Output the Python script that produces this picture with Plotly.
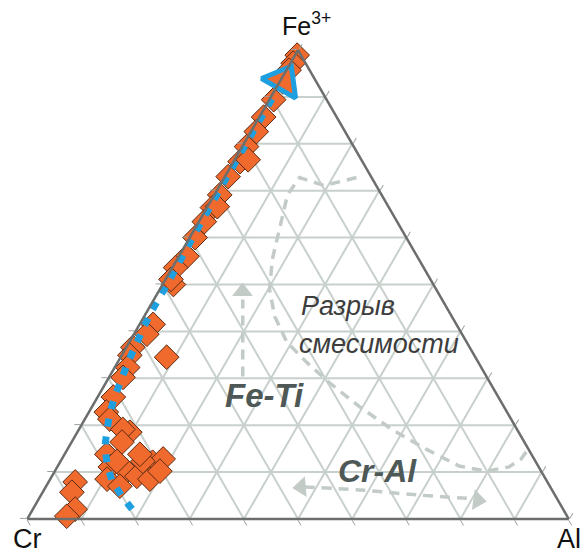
import plotly.graph_objects as go

# ---- data (percent) ----
fe = [98.9, 97.2, 95.7, 93.2, 89.4, 85.7, 82.6, 79.4, 76.2, 76.6,
      73.0, 69.1, 66.4, 63.4, 66.6, 60.0, 56.0, 53.6, 50.0, 51.1,
      41.5, 39.4, 36.6, 34.9, 34.5, 32.3, 30.2, 26.0, 22.8, 21.3,
      18.5, 19.1, 16.4, 13.8, 11.1, 10.2, 12.1, 12.8, 9.1, 8.5,
      8.5, 7.0, 7.9, 5.7, 2.1, 0.6, 12.3, 13.8, 10.2, 12.3]
al = [0.4, 0.5, 0.5, 0.6, 0.8, 0.8, 1.0, 0.8, 1.2, 2.5,
      0.6, 1.0, 1.0, 1.0, 1.8, 1.0, 1.5, 0.6, 2.0, 1.0,
      2.5, 2.4, 1.2, 1.5, 8.5, 2.4, 2.6, 2.9, 3.2, 4.6,
      9.7, 8.1, 9.3, 7.8, 9.8, 13.3, 17.1, 18.7, 15.7, 18.4,
      10.5, 13.6, 4.9, 5.4, 7.8, 7.0, 15.2, 13.9, 19.4, 10.4]
cr = [round(100 - f - a, 1) for f, a in zip(fe, al)]

# trend line (blue dotted) Fe / Al
trend_fe = [2.1, 4.9, 8.1, 11.7, 15.5, 19.1, 22.8, 26.2, 33.4, 43.6, 50.0, 63.2, 73.0, 89.4, 92.0]
trend_al = [18.3, 15.0, 11.6, 8.9, 6.6, 5.2, 3.9, 3.1, 1.9, 0.8, 0.8, 0.5, 0.4, 0.4, 0.4]
trend_head_fe = [93.4]
trend_head_al = [0.5]

# miscibility gap outline (gray dashed) Fe / Al
gap_fe = [72.8, 71.1, 72.8, 69.1, 61.7, 55.3, 48.9, 43.2, 37.7, 33.4, 29.1, 24.0,
          19.1, 14.9, 11.3, 10.2, 11.1, 12.8, 14.5]
gap_al = [24.4, 19.3, 13.9, 13.5, 15.7, 17.6, 20.3, 24.1, 29.1, 34.9, 41.2, 49.3,
          57.8, 66.2, 74.1, 79.6, 83.4, 84.8, 85.0]

# Fe-Ti arrow
feti_fe = [30.4, 46.8]
feti_al = [24.6, 16.4]
feti_head_fe = [48.5]
feti_head_al = [15.5]

# Cr-Al arrow
cral_fe = [6.8, 6.2, 5.1, 4.3]
cral_al = [47.8, 58.2, 69.8, 80.4]
cral_head_fe = [6.8, 4.0]
cral_head_al = [47.2, 81.2]


def rest(f, a):
    return [round(100 - x - y, 2) for x, y in zip(f, a)]


BLUE = "#1E9FE0"
GRAY = "#C3CBC7"
ORANGE = "#F06A2E"
DASH = "10px,7px"

fig = go.Figure()

# gray dashed guides
fig.add_trace(go.Scatterternary(a=gap_fe, b=rest(gap_fe, gap_al), c=gap_al, mode="lines",
                                line=dict(color=GRAY, width=3.5, dash=DASH),
                                hoverinfo="skip", cliponaxis=False))
fig.add_trace(go.Scatterternary(a=feti_fe, b=rest(feti_fe, feti_al), c=feti_al, mode="lines",
                                line=dict(color=GRAY, width=3.5, dash=DASH),
                                hoverinfo="skip"))
fig.add_trace(go.Scatterternary(a=feti_head_fe, b=rest(feti_head_fe, feti_head_al), c=feti_head_al,
                                mode="markers",
                                marker=dict(symbol="triangle-up", size=18, color=GRAY),
                                hoverinfo="skip"))
fig.add_trace(go.Scatterternary(a=cral_fe, b=rest(cral_fe, cral_al), c=cral_al, mode="lines",
                                line=dict(color=GRAY, width=3.5, dash=DASH, shape="spline"),
                                hoverinfo="skip"))
fig.add_trace(go.Scatterternary(a=cral_head_fe, b=rest(cral_head_fe, cral_head_al), c=cral_head_al,
                                mode="markers",
                                marker=dict(symbol=["triangle-left", "triangle-right"], size=18,
                                            color=GRAY, angle=[-5, 8]),
                                hoverinfo="skip"))

# data points
fig.add_trace(go.Scatterternary(a=fe, b=cr, c=al, mode="markers",
                                marker=dict(symbol="diamond", size=19, color=ORANGE,
                                            line=dict(color="#5A2A12", width=1)),
                                cliponaxis=False, name="data"))

# blue trend
fig.add_trace(go.Scatterternary(a=trend_fe, b=rest(trend_fe, trend_al), c=trend_al, mode="lines",
                                line=dict(color=BLUE, width=7, dash="8px,10px"),
                                cliponaxis=False, hoverinfo="skip"))
fig.add_trace(go.Scatterternary(a=trend_head_fe, b=rest(trend_head_fe, trend_head_al), c=trend_head_al,
                                mode="markers",
                                marker=dict(symbol="triangle-up", size=34, angle=30,
                                            color=ORANGE, line=dict(color=BLUE, width=5)),
                                cliponaxis=False, hoverinfo="skip"))

axis_common = dict(showticklabels=False, ticks="outside", ticklen=6, tickwidth=1.2,
                   tickcolor="#9aa29f", dtick=10, tick0=0, title=dict(text=""),
                   showgrid=True, gridcolor="#C8D0CC", gridwidth=1.5,
                   showline=True, linecolor="#6B6E6D", linewidth=2.5)


def label(text, x, y, size, color, yanchor="middle"):
    return dict(text=text, x=x, y=y, xref="paper", yref="paper", xanchor="center",
                yanchor=yanchor, showarrow=False, font=dict(size=size, color=color))


fig.update_layout(
    width=586, height=555,
    margin=dict(l=27, r=17, t=50, b=36),
    paper_bgcolor="white",
    showlegend=False,
    font=dict(family="Liberation Sans, Arial, sans-serif"),
    ternary=dict(sum=100, bgcolor="white",
                 aaxis=axis_common, baxis=axis_common, caxis=axis_common),
    annotations=[
        label("Fe<sup>3+</sup>", 0.515, 1.017, 25, "#111111", yanchor="bottom"),
        label("Cr", 0.0, -0.043, 27, "#111111"),
        label("Al", 1.0, -0.043, 27, "#111111"),
        label("<i>Разрыв</i>", 0.592, 0.454, 27, "#3D3D3D"),
        label("<i>смесимости</i>", 0.649, 0.373, 27, "#3D3D3D"),
        label("<b><i>Fe-Ti</i></b>", 0.439, 0.264, 33, "#4E5957"),
        label("<b><i>Cr-Al</i></b>", 0.647, 0.102, 32, "#4E5957"),
    ],
)

fig.write_html("out.html", config={"displayModeBar": False},
               post_script="document.body.style.margin='0';document.body.style.overflow='hidden';")
